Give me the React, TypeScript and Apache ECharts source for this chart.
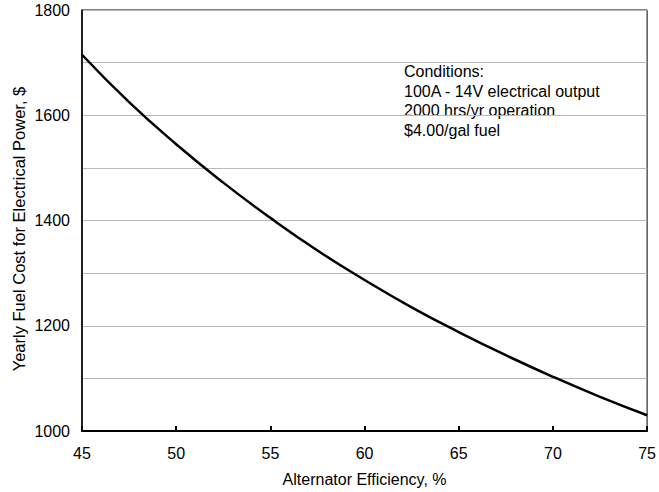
import React, { useEffect, useRef } from "react";
import * as echarts from "echarts";

const efficiency = [45, 47.5, 50, 52.5, 55, 57.5, 60, 62.5, 65, 67.5, 70, 72.5, 75];
const yearlyCost = [1715, 1625, 1545, 1472, 1405, 1343, 1287, 1235, 1188, 1144, 1103, 1065, 1030];
const conditionLines = [
  "Conditions:",
  "100A - 14V electrical output",
  "2000 hrs/yr operation",
  "$4.00/gal fuel",
];
const xAxisTitle = "Alternator Efficiency, %";
const yAxisTitle = "Yearly Fuel Cost for Electrical Power, $";

const FONT = "Liberation Sans, Arial, sans-serif";

export default function App() {
  const ref = useRef<HTMLDivElement>(null);
  useEffect(() => {
    if (!ref.current) return;
    const chart = echarts.init(ref.current, null, { renderer: "svg" });
    chart.setOption({
      animation: false,
      backgroundColor: "#ffffff",
      grid: {
        left: 82,
        top: 10,
        right: 8,
        bottom: 60,
        show: true,
        borderColor: "#000",
        borderWidth: 1,
        containLabel: false,
      },
      xAxis: {
        type: "value",
        min: 45,
        max: 75,
        interval: 5,
        name: xAxisTitle,
        nameLocation: "middle",
        nameGap: 40,
        nameTextStyle: { fontFamily: FONT, fontSize: 16, color: "#000" },
        axisLine: { show: true, lineStyle: { color: "#000", width: 2 } },
        axisTick: { show: true, inside: true, length: 5, lineStyle: { color: "#000", width: 2 } },
        axisLabel: { fontFamily: FONT, fontSize: 16, color: "#000", margin: 14 },
        splitLine: { show: false },
      },
      yAxis: {
        type: "value",
        min: 1000,
        max: 1800,
        interval: 100,
        axisLine: { show: true, lineStyle: { color: "#000", width: 1.5 } },
        axisTick: { show: false },
        axisLabel: {
          fontFamily: FONT,
          fontSize: 16,
          color: "#000",
          margin: 12,
          formatter: (v: number) => (v % 200 === 0 ? String(v) : ""),
        },
        splitLine: { show: true, lineStyle: { color: "#b8b8b8", width: 1 } },
      },
      graphic: [
        {
          type: "text",
          x: 19,
          y: 229,
          rotation: Math.PI / 2,
          style: {
            text: yAxisTitle,
            font: `16.5px ${FONT}`,
            fill: "#000",
            align: "center",
            verticalAlign: "middle",
          },
        },
        {
          type: "text",
          left: 404,
          top: 62,
          style: {
            text: conditionLines.join("\n"),
            font: `16px ${FONT}`,
            fill: "#000",
            lineHeight: 19.5,
          },
        },
      ],
      series: [
        {
          type: "line",
          data: efficiency.map((x, i) => [x, yearlyCost[i]]),
          smooth: true,
          showSymbol: false,
          lineStyle: { color: "#000", width: 2.5 },
          z: 5,
        },
      ],
    });
    return () => chart.dispose();
  }, []);
  return <div ref={ref} style={{ width: 659, height: 492, position: "absolute", left: 0, top: 0 }} />;
}
